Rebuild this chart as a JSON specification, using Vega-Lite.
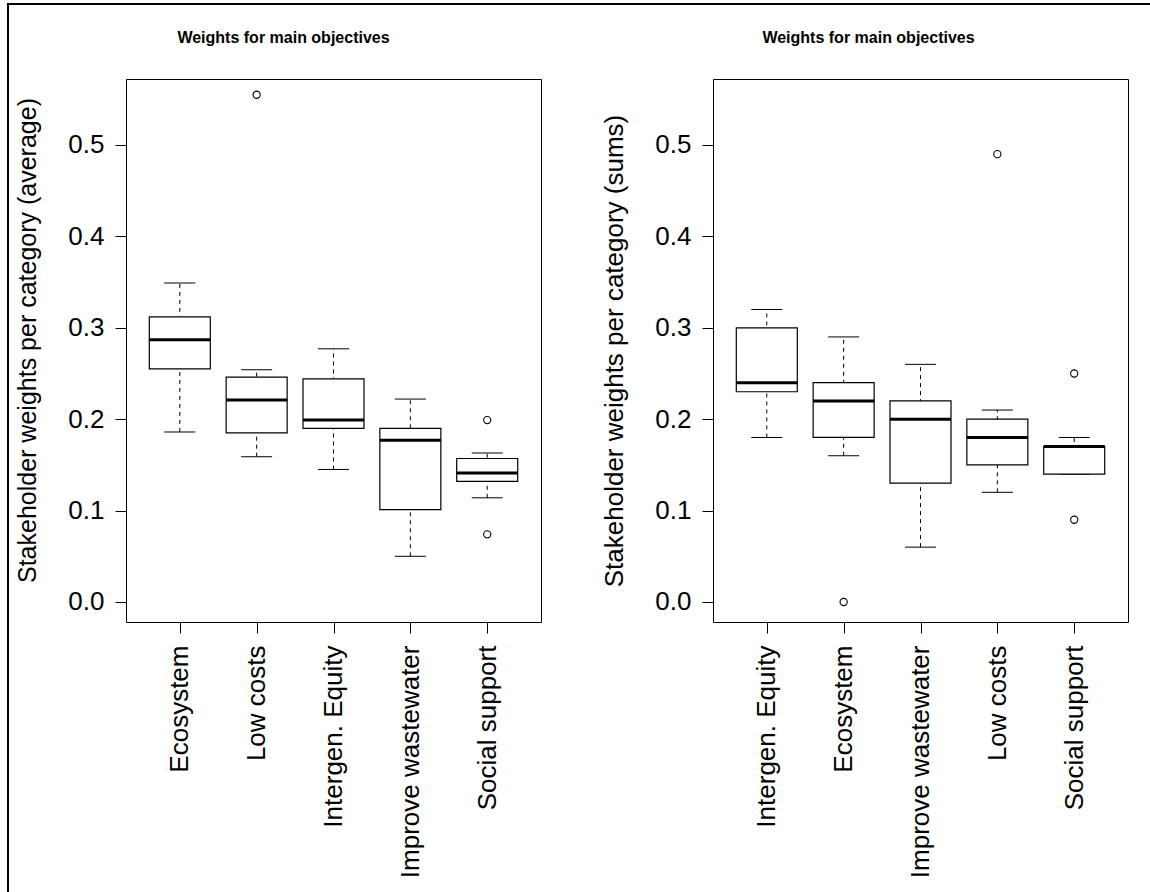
{
  "$schema": "https://vega.github.io/schema/vega-lite/v6.json",
  "width": 1142,
  "height": 888,
  "autosize": {"type": "none"},
  "padding": {"left": 8, "top": 4, "right": 0, "bottom": 0},
  "background": "white",
  "config": {
    "view": {"stroke": "black", "strokeWidth": 2, "strokeDash": [1142, 2030, 888]},
    "font": "Liberation Sans",
    "tick": {"opacity": 1},
    "point": {"opacity": 1},
    "axis": {
      "grid": false,
      "labelFont": "Liberation Sans",
      "titleFont": "Liberation Sans",
      "labelColor": "black",
      "titleColor": "black",
      "domainColor": "black",
      "tickColor": "black",
      "domainWidth": 1,
      "tickWidth": 1,
      "labelLimit": 0,
      "titleLimit": 0
    }
  },
  "datasets": {
    "avg": [
      {"cat": "Ecosystem", "lo": 0.186, "q1": 0.255, "med": 0.287, "q3": 0.312, "hi": 0.349},
      {"cat": "Low costs", "lo": 0.159, "q1": 0.185, "med": 0.221, "q3": 0.246, "hi": 0.254},
      {"cat": "Intergen. Equity", "lo": 0.145, "q1": 0.190, "med": 0.199, "q3": 0.244, "hi": 0.277},
      {"cat": "Improve wastewater", "lo": 0.050, "q1": 0.101, "med": 0.177, "q3": 0.190, "hi": 0.222},
      {"cat": "Social support", "lo": 0.114, "q1": 0.132, "med": 0.141, "q3": 0.157, "hi": 0.163}
    ],
    "avgOut": [
      {"cat": "Low costs", "value": 0.555},
      {"cat": "Social support", "value": 0.199},
      {"cat": "Social support", "value": 0.074}
    ],
    "sums": [
      {"cat": "Intergen. Equity", "lo": 0.18, "q1": 0.23, "med": 0.24, "q3": 0.30, "hi": 0.32},
      {"cat": "Ecosystem", "lo": 0.16, "q1": 0.18, "med": 0.22, "q3": 0.24, "hi": 0.29},
      {"cat": "Improve wastewater", "lo": 0.06, "q1": 0.13, "med": 0.20, "q3": 0.22, "hi": 0.26},
      {"cat": "Low costs", "lo": 0.12, "q1": 0.15, "med": 0.18, "q3": 0.20, "hi": 0.21},
      {"cat": "Social support", "lo": 0.14, "q1": 0.14, "med": 0.17, "q3": 0.17, "hi": 0.18}
    ],
    "sumsOut": [
      {"cat": "Ecosystem", "value": 0.0},
      {"cat": "Low costs", "value": 0.49},
      {"cat": "Social support", "value": 0.25},
      {"cat": "Social support", "value": 0.09}
    ]
  },
  "layer": [
    {
      "resolve": {"axis": {"x": "independent", "y": "independent"}},
      "layer": [
        {
          "data": {"name": "avg"},
          "mark": {"type": "rule", "color": "black", "strokeWidth": 1, "strokeDash": [4, 4]},
          "encoding": {
            "x": {
              "field": "cat", "type": "nominal", "sort": null,
              "scale": {"type": "point", "domain": ["Ecosystem", "Low costs", "Intergen. Equity", "Improve wastewater", "Social support"], "range": [118, 533], "padding": 0.7},
              "axis": {"orient": "bottom", "offset": -270, "title": null, "labelAngle": -90, "labelAlign": "right", "labelBaseline": "middle", "labelFontSize": 26, "labelPadding": 12, "tickSize": 11, "domain": true, "labelOverlap": false}
            },
            "y": {
              "field": "lo", "type": "quantitative",
              "scale": {"domain": [-0.0219, 0.5722], "range": [618, 75], "zero": false, "nice": false},
              "axis": {"orient": "left", "offset": -118, "values": [0, 0.1, 0.2, 0.3, 0.4, 0.5], "format": ".1f", "labelFontSize": 26, "labelPadding": 11, "tickSize": 11, "title": "Stakeholder weights per category (average)", "titleFontSize": 25, "titleFontWeight": "normal", "titleX": -86, "titleY": 336, "titleBaseline": "bottom", "titleAngle": -90, "titleAlign": "center"}
            },
            "y2": {"field": "hi"}
          }
        },
        {
          "data": {"name": "avg"},
          "mark": {"type": "tick", "color": "black", "size": 31, "thickness": 1},
          "encoding": {
            "x": {"field": "cat", "type": "nominal", "sort": null, "axis": null},
            "y": {"field": "lo", "type": "quantitative", "axis": null}
          }
        },
        {
          "data": {"name": "avg"},
          "mark": {"type": "tick", "color": "black", "size": 31, "thickness": 1},
          "encoding": {
            "x": {"field": "cat", "type": "nominal", "sort": null, "axis": null},
            "y": {"field": "hi", "type": "quantitative", "axis": null}
          }
        },
        {
          "data": {"name": "avg"},
          "mark": {"type": "bar", "fill": "white", "stroke": "black", "strokeWidth": 1.2, "size": 61},
          "encoding": {
            "x": {
              "field": "cat", "type": "nominal", "sort": null,
              "axis": {"orient": "top", "offset": -75, "labels": false, "ticks": false, "domain": true, "title": "Weights for main objectives", "titleFontSize": 16, "titleFontWeight": "bold", "titleX": 275, "titleY": -37, "titleBaseline": "alphabetic", "titleAlign": "center"}
            },
            "y": {
              "field": "q1", "type": "quantitative",
              "axis": {"orient": "right", "offset": -609, "labels": false, "ticks": false, "domain": true, "title": null}
            },
            "y2": {"field": "q3"}
          }
        },
        {
          "data": {"name": "avg"},
          "mark": {"type": "tick", "color": "black", "size": 61, "thickness": 3},
          "encoding": {
            "x": {"field": "cat", "type": "nominal", "sort": null, "axis": null},
            "y": {"field": "med", "type": "quantitative", "axis": null}
          }
        },
        {
          "data": {"name": "avgOut"},
          "mark": {"type": "point", "shape": "circle", "filled": false, "color": "black", "size": 52, "strokeWidth": 1.1},
          "encoding": {
            "x": {"field": "cat", "type": "nominal", "sort": null, "axis": null},
            "y": {"field": "value", "type": "quantitative", "axis": null}
          }
        }
      ]
    },
    {
      "resolve": {"axis": {"x": "independent", "y": "independent"}},
      "layer": [
        {
          "data": {"name": "sums"},
          "mark": {"type": "rule", "color": "black", "strokeWidth": 1, "strokeDash": [4, 4]},
          "encoding": {
            "x": {
              "field": "cat", "type": "nominal", "sort": null,
              "scale": {"type": "point", "domain": ["Intergen. Equity", "Ecosystem", "Improve wastewater", "Low costs", "Social support"], "range": [705, 1120], "padding": 0.7},
              "axis": {"orient": "bottom", "offset": -270, "title": null, "labelAngle": -90, "labelAlign": "right", "labelBaseline": "middle", "labelFontSize": 26, "labelPadding": 12, "tickSize": 11, "domain": true, "labelOverlap": false}
            },
            "y": {
              "field": "lo", "type": "quantitative",
              "scale": {"domain": [-0.0219, 0.5722], "range": [618, 75], "zero": false, "nice": false},
              "axis": {"orient": "left", "offset": -705, "values": [0, 0.1, 0.2, 0.3, 0.4, 0.5], "format": ".1f", "labelFontSize": 26, "labelPadding": 11, "tickSize": 11, "title": "Stakeholder weights per category (sums)", "titleFontSize": 26, "titleFontWeight": "normal", "titleX": -86, "titleBaseline": "bottom", "titleAngle": -90}
            },
            "y2": {"field": "hi"}
          }
        },
        {
          "data": {"name": "sums"},
          "mark": {"type": "tick", "color": "black", "size": 31, "thickness": 1},
          "encoding": {
            "x": {"field": "cat", "type": "nominal", "sort": null, "axis": null},
            "y": {"field": "lo", "type": "quantitative", "axis": null}
          }
        },
        {
          "data": {"name": "sums"},
          "mark": {"type": "tick", "color": "black", "size": 31, "thickness": 1},
          "encoding": {
            "x": {"field": "cat", "type": "nominal", "sort": null, "axis": null},
            "y": {"field": "hi", "type": "quantitative", "axis": null}
          }
        },
        {
          "data": {"name": "sums"},
          "mark": {"type": "bar", "fill": "white", "stroke": "black", "strokeWidth": 1.2, "size": 61},
          "encoding": {
            "x": {
              "field": "cat", "type": "nominal", "sort": null,
              "axis": {"orient": "top", "offset": -75, "labels": false, "ticks": false, "domain": true, "title": "Weights for main objectives", "titleFontSize": 16, "titleFontWeight": "bold", "titleX": 860, "titleY": -37, "titleBaseline": "alphabetic", "titleAlign": "center"}
            },
            "y": {
              "field": "q1", "type": "quantitative",
              "axis": {"orient": "right", "offset": -22, "labels": false, "ticks": false, "domain": true, "title": null}
            },
            "y2": {"field": "q3"}
          }
        },
        {
          "data": {"name": "sums"},
          "mark": {"type": "tick", "color": "black", "size": 61, "thickness": 3},
          "encoding": {
            "x": {"field": "cat", "type": "nominal", "sort": null, "axis": null},
            "y": {"field": "med", "type": "quantitative", "axis": null}
          }
        },
        {
          "data": {"name": "sumsOut"},
          "mark": {"type": "point", "shape": "circle", "filled": false, "color": "black", "size": 52, "strokeWidth": 1.1},
          "encoding": {
            "x": {"field": "cat", "type": "nominal", "sort": null, "axis": null},
            "y": {"field": "value", "type": "quantitative", "axis": null}
          }
        }
      ]
    }
  ],
  "resolve": {"scale": {"x": "independent", "y": "independent"}}
}
